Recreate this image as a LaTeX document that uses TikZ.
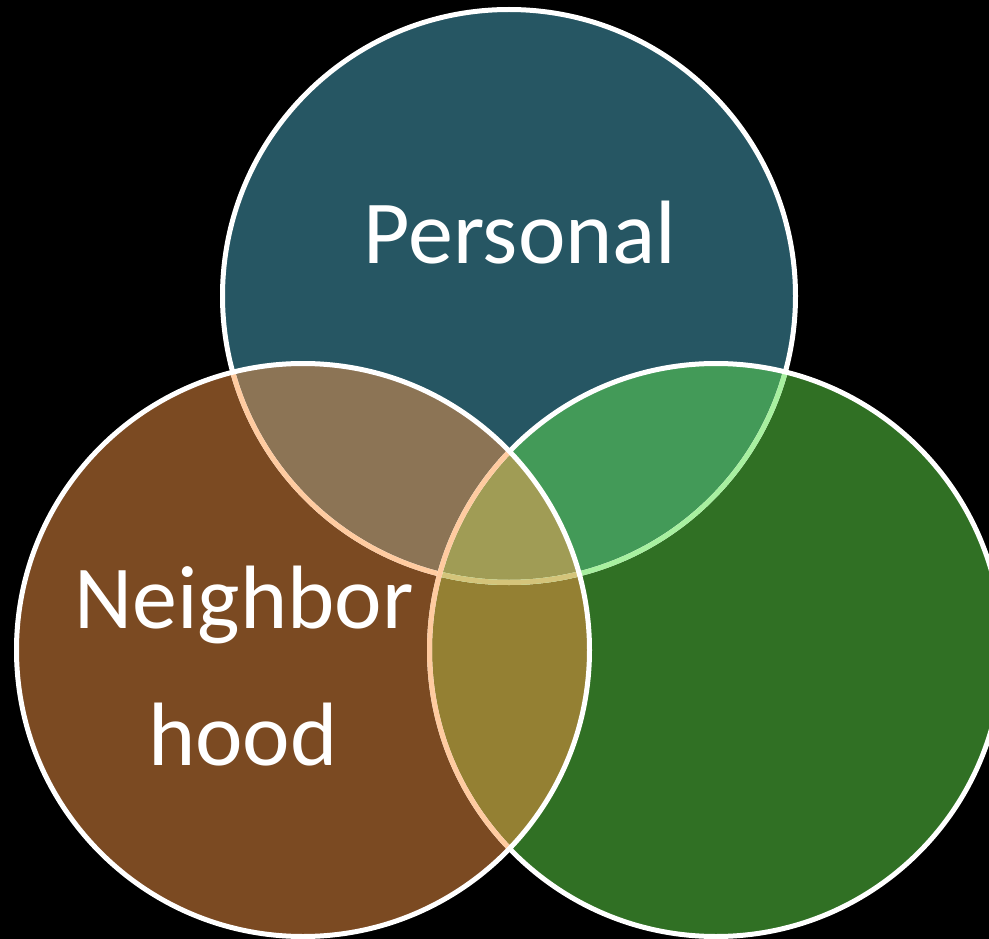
\documentclass[tikz,border=0pt]{standalone}
\usepackage{fontspec}
\setmainfont{Carlito}
\definecolor{tcol}{HTML}{265663}
\definecolor{lcol}{HTML}{7B4A22}
\definecolor{rcol}{HTML}{307024}
\definecolor{tlcol}{HTML}{8C7455}
\definecolor{trcol}{HTML}{439A58}
\definecolor{lrcol}{HTML}{948033}
\definecolor{tlrcol}{HTML}{A09C55}
\definecolor{peach}{HTML}{FFCBA0}
\definecolor{lgreen}{HTML}{A8F0A0}
\definecolor{ylw}{HTML}{D4C47A}
\tikzset{
  rim/.style={line width=5pt},
  lbl/.style={text=white, font=\fontsize{90}{90}\selectfont, anchor=base, inner sep=0pt}
}
\def\R{286.5}
\def\Tc{(509,296)}
\def\Lc{(303,650)}
\def\Rc{(716,650)}
\begin{document}
\begin{tikzpicture}[x=1pt,y=-1pt]
\fill[black] (0,0) rectangle (989,939);
\useasboundingbox (0,0) rectangle (989,939);
\clip (0,0) rectangle (989,939);
% base fills
\fill[tcol] \Tc circle (\R);
\fill[rcol] \Rc circle (\R);
\fill[lcol] \Lc circle (\R);
% pairwise overlaps
\begin{scope}\clip \Rc circle (\R); \fill[trcol] \Tc circle (\R); \end{scope}
\begin{scope}\clip \Lc circle (\R); \fill[lrcol] \Rc circle (\R); \end{scope}
\begin{scope}\clip \Lc circle (\R); \fill[tlcol] \Tc circle (\R);
  \clip \Rc circle (\R); \fill[tlrcol] \Tc circle (\R); \end{scope}
% borders: top circle
\draw[rim, white] \Tc circle (\R);
\begin{scope}\clip \Lc circle (\R); \draw[rim, peach] \Tc circle (\R); \end{scope}
\begin{scope}\clip \Rc circle (\R); \draw[rim, lgreen] \Tc circle (\R);
  \clip \Lc circle (\R); \draw[rim, ylw] \Tc circle (\R); \end{scope}
% right circle
\draw[rim, white] \Rc circle (\R);
\begin{scope}\clip \Lc circle (\R); \draw[rim, peach] \Rc circle (\R); \end{scope}
% left circle
\draw[rim, white] \Lc circle (\R);
% labels
\node[lbl] (personal) at (520,264) {Personal};
\node[lbl] (neigh) at (244,628) {Neighbor};
\node[lbl] (hood) at (243,765) {hood};
\end{tikzpicture}
\end{document}
